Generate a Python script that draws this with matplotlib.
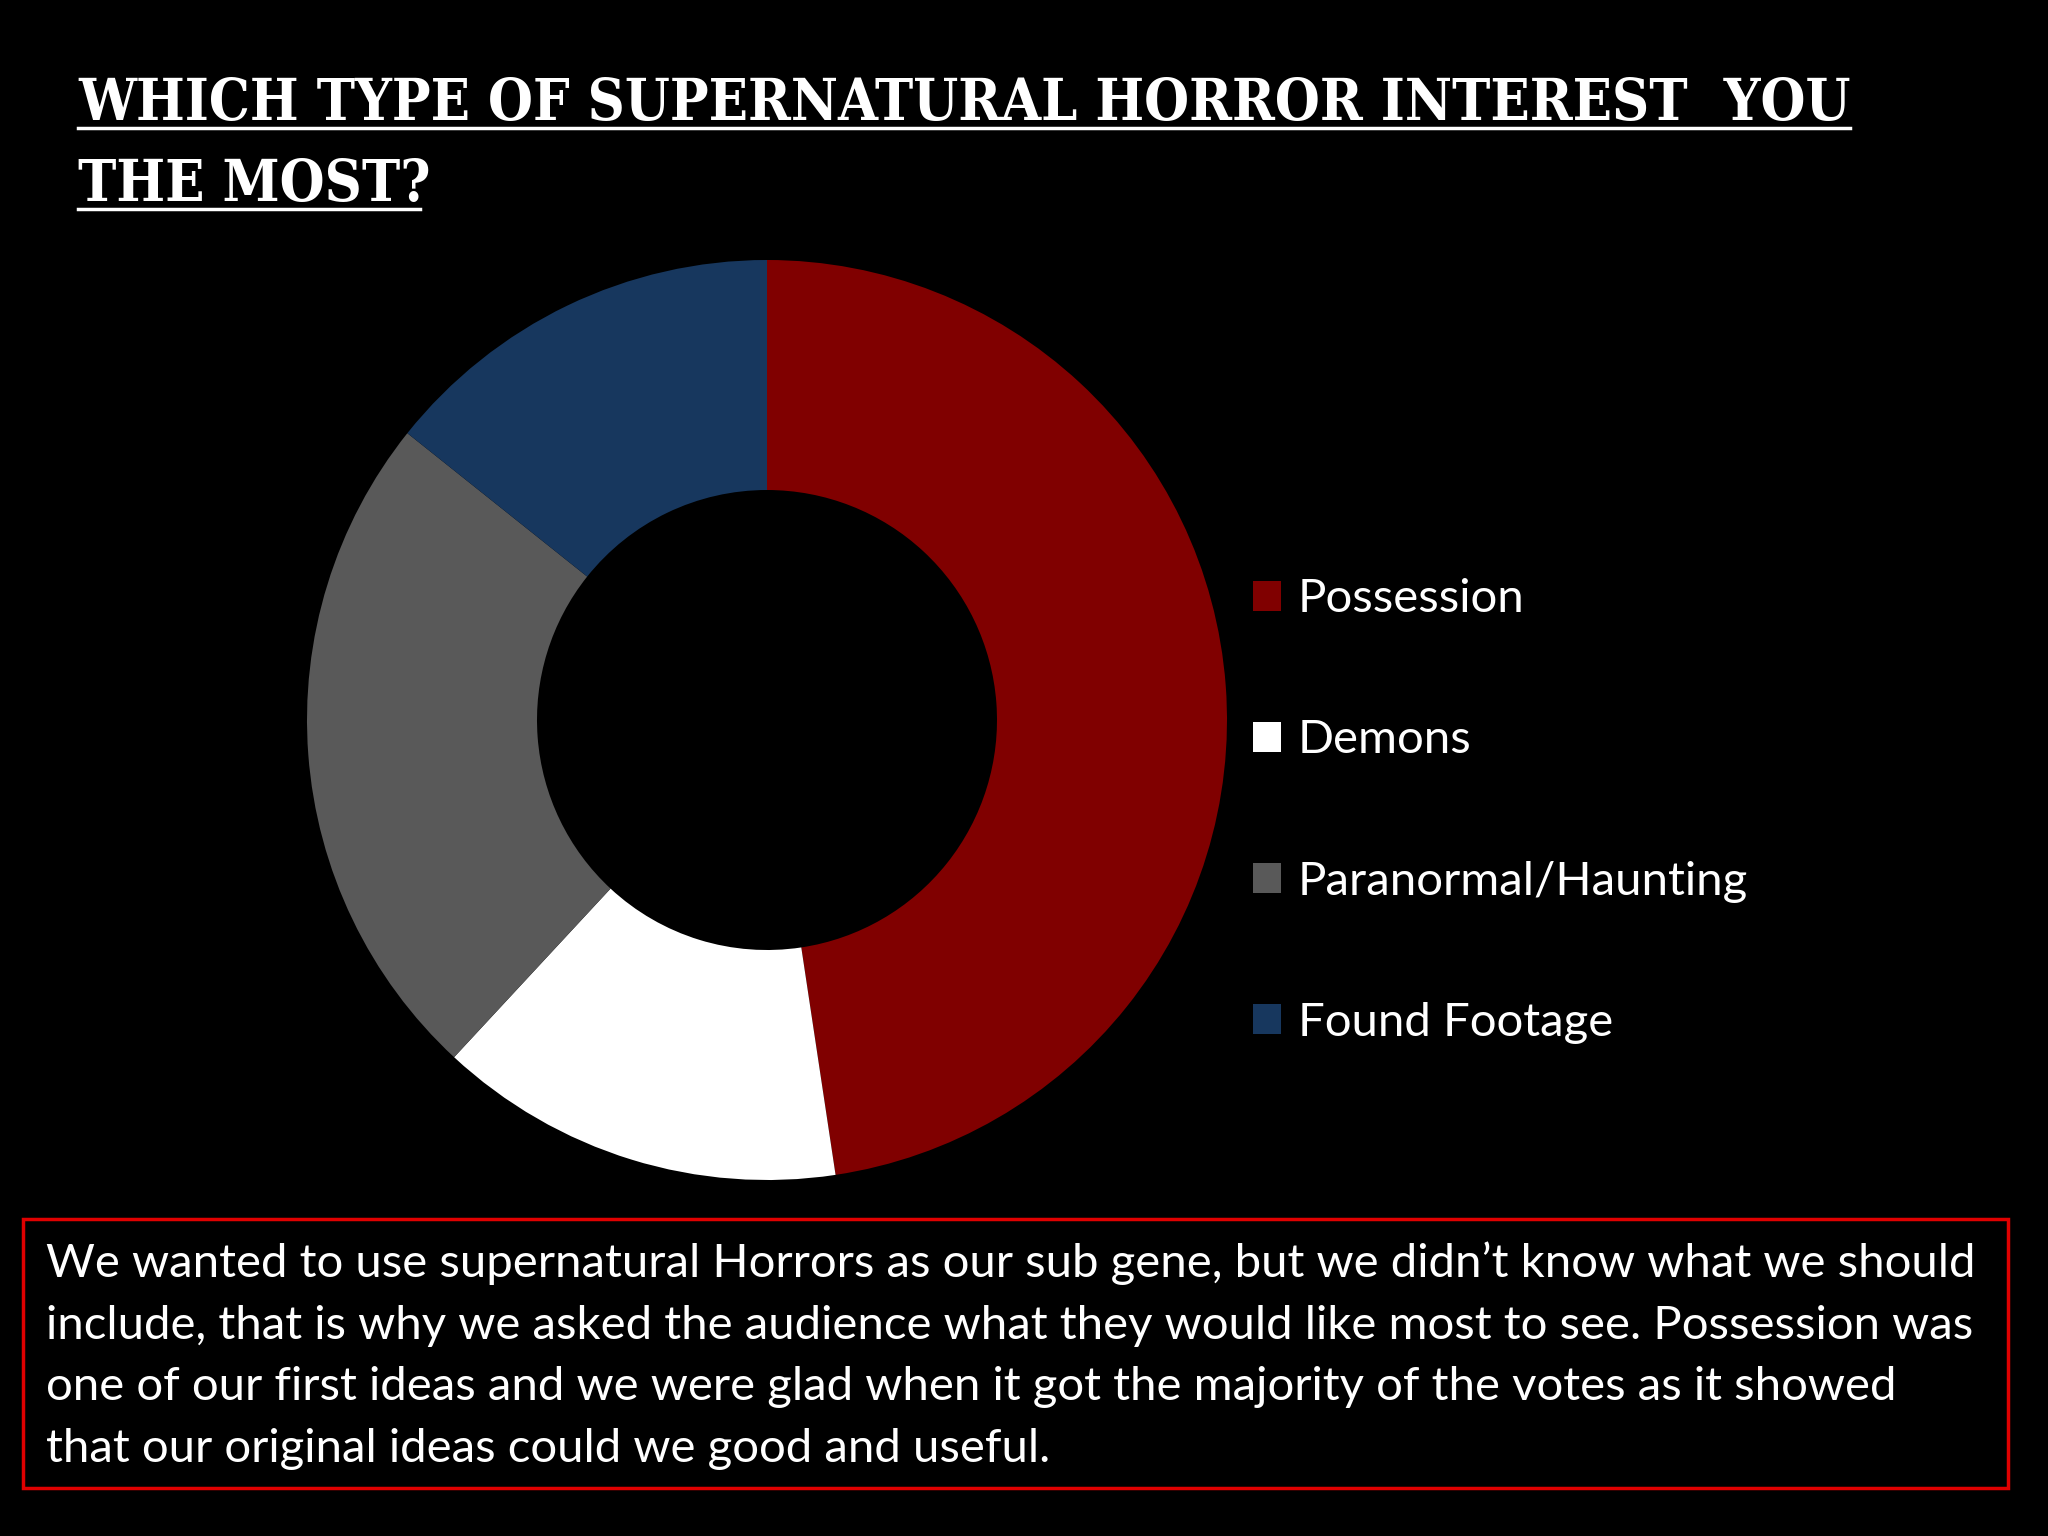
import matplotlib
matplotlib.use("Agg")
import matplotlib.pyplot as plt
from matplotlib.lines import Line2D
from matplotlib.patches import Rectangle

# survey answers (votes)
labels = ["Possession", "Demons", "Paranormal/Haunting", "Found Footage"]
votes = [10, 3, 5, 3]
colors = ["#800000", "#FFFFFF", "#595959", "#17375E"]

title_lines = ["WHICH TYPE OF SUPERNATURAL HORROR INTEREST  YOU", "THE MOST?"]
body_lines = [
    "We wanted to use supernatural Horrors as our sub gene, but we didn\u2019t know what we should",
    "include, that is why we asked the audience what they would like most to see. Possession was",
    "one of our first ideas and we were glad when it got the majority of the votes as it showed",
    "that our original ideas could we good and useful.",
]

W, H = 2048, 1536
fig = plt.figure(figsize=(W / 100, H / 100), dpi=100, facecolor="black")

def fx(px):
    return px / W

def fy(py):
    return 1 - py / H

# title
title_font = dict(family=["DejaVu Serif", "Liberation Serif"], fontweight="bold",
                  fontstretch="condensed", color="white", fontsize=41.3)
fig.text(fx(78), fy(120), title_lines[0], va="baseline", ha="left", **title_font)
fig.text(fx(78), fy(201), title_lines[1], va="baseline", ha="left", **title_font)
fig.add_artist(Line2D([fx(78), fx(1850)], [fy(128), fy(128)], color="white", lw=2.5))
fig.add_artist(Line2D([fx(78), fx(420)], [fy(209), fy(209)], color="white", lw=2.5))

# donut
cx, cy, r = 767, 720, 460
ax = fig.add_axes([fx(cx - r), fy(cy + r), 2 * r / W, 2 * r / H])
ax.set_facecolor("black")
wedges, _ = ax.pie(votes, colors=colors, startangle=90, counterclock=False,
                   radius=1, wedgeprops=dict(width=0.5, linewidth=0))
ax.set_xlim(-1, 1)
ax.set_ylim(-1, 1)
ax.set_aspect("equal")
ax.axis("off")

leg = fig.legend(wedges, labels, loc="center left", bbox_to_anchor=(fx(1234), fy(811)),
                 frameon=False, labelcolor="white",
                 prop=dict(family="Lato", size=34),
                 handlelength=0.6, handleheight=0.6, handletextpad=0.35,
                 labelspacing=2.1, borderaxespad=0)

# comment box
fig.add_artist(Rectangle((fx(23), fy(1488)), fx(2008) - fx(23), fy(1219) - fy(1488),
                         transform=fig.transFigure, fill=False, edgecolor="#E00000", lw=2.5))
baselines = [1277, 1339, 1400, 1462]
for line, b in zip(body_lines, baselines):
    fig.text(fx(46), fy(b), line, va="baseline", ha="left", color="white",
             family="Lato", fontsize=34)

fig.savefig("out.png", dpi=100, facecolor="black")
